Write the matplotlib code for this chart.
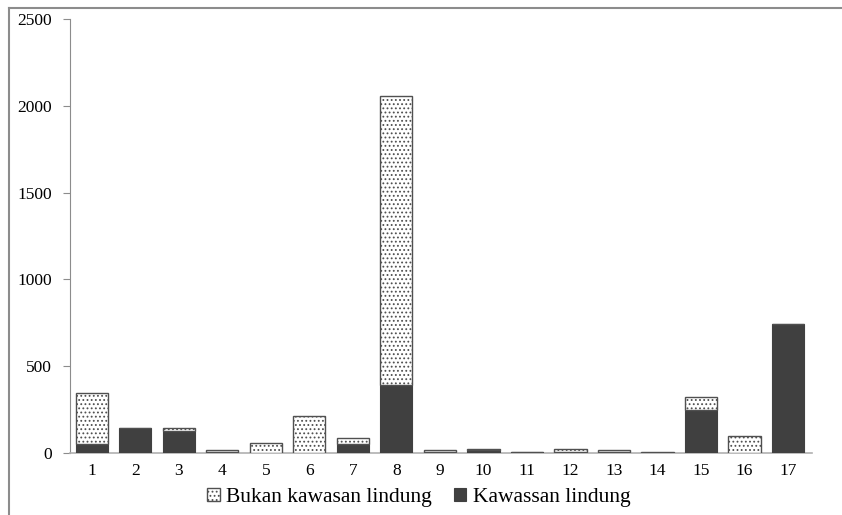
import matplotlib.pyplot as plt
from matplotlib.lines import Line2D

plt.rcParams['font.family'] = ['Liberation Serif', 'DejaVu Serif']
plt.rcParams['hatch.color'] = '#999999'
plt.rcParams['hatch.linewidth'] = 0.8

# data
sites = [str(i) for i in range(1, 18)]
kawasan = [50, 145, 125, 5, 0, 0, 50, 390, 5, 15, 3, 3, 8, 2, 248, 0, 745]
bukan = [295, 0, 20, 13, 58, 215, 35, 1665, 10, 7, 1, 22, 7, 1, 74, 96, 0]

dark = '#404040'

fig = plt.figure(figsize=(8.42, 5.15), dpi=100)
ax = fig.add_axes([0.0831, 0.1204, 0.8813, 0.8427])

x = list(range(1, 18))
ax.bar(x, kawasan, width=0.74, color=dark, edgecolor=dark, linewidth=0.8,
       label='Kawassan lindung', zorder=3)
ax.bar(x, bukan, width=0.74, bottom=kawasan, color='white', edgecolor='#505050',
       linewidth=1.0, hatch='....', label='Bukan kawasan lindung', zorder=3)

ax.set_xlim(0.5, 17.55)
ax.set_ylim(0, 2500)
ax.set_yticks([0, 500, 1000, 1500, 2000, 2500])
ax.set_xticks(x)
ax.set_xticklabels(sites)

for s in ['top', 'right']:
    ax.spines[s].set_visible(False)
ax.spines['left'].set_color('#8c8c8c')
ax.spines['bottom'].set_color('#b0b0b0')
ax.spines['bottom'].set_linewidth(1.2)
ax.tick_params(axis='y', direction='out', length=5, color='#8c8c8c',
               labelsize=12.5, pad=8)
ax.tick_params(axis='x', length=0, labelsize=12.5, pad=7)

handles, labels = ax.get_legend_handles_labels()
ax.legend(handles[::-1], labels[::-1], loc='upper center',
          bbox_to_anchor=(0.47, -0.045), ncol=2, frameon=False,
          fontsize=15.5, handlelength=0.6, handleheight=0.6,
          handletextpad=0.3, columnspacing=1.0, borderpad=0.2)

# outer frame lines (top and left) like the source image
fig.add_artist(Line2D([9 / 842, 1], [1 - 8 / 515, 1 - 8 / 515],
                      transform=fig.transFigure, color='#8c8c8c', lw=1.5))
fig.add_artist(Line2D([9 / 842, 9 / 842], [0, 1 - 8 / 515],
                      transform=fig.transFigure, color='#8c8c8c', lw=1.5))

fig.savefig('out.png', dpi=100)
